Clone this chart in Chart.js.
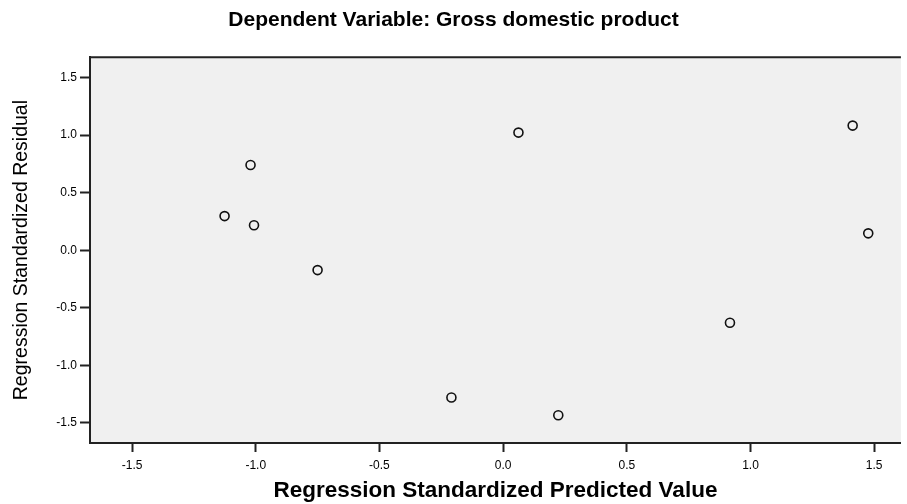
<!DOCTYPE html>
<html>
<head>
<meta charset="utf-8">
<script src="https://cdn.jsdelivr.net/npm/chart.js@4"></script>
<style>
  html, body { margin: 0; padding: 0; background: #fff; overflow: hidden; }
  canvas { display: block; }
</style>
</head>
<body>
<canvas id="resid-chart" width="907" height="504"></canvas>
<script>
// standardized predicted value vs standardized residual
const predicted = [-1.126, -1.021, -1.007, -0.750, -0.209, 0.062, 0.223, 0.917, 1.413, 1.476]
const residuals = [0.297, 0.741, 0.217, -0.172, -1.279, 1.022, -1.433, -0.630, 1.083, 0.147]
const xTickValues = [-1.5, -1.0, -0.5, 0.0, 0.5, 1.0, 1.5]
const yTickValues = [-1.5, -1.0, -0.5, 0.0, 0.5, 1.0, 1.5]

const points = predicted.map((x, i) => ({ x: x, y: residuals[i] }))
const fontFamily = '"Liberation Sans", Arial, sans-serif'
const lineColor = '#222'

// grey plot box with the top edge
const plotBox = {
    id: 'plotBox',
    beforeDraw(chart) {
        const { ctx, chartArea: a } = chart
        ctx.save()
        ctx.fillStyle = '#f0f0f0'
        ctx.fillRect(a.left, a.top, a.right - a.left, a.bottom - a.top)
        ctx.strokeStyle = lineColor
        ctx.lineWidth = 2
        ctx.beginPath()
        ctx.moveTo(a.left, a.top)
        ctx.lineTo(a.right, a.top)
        ctx.stroke()
        ctx.restore()
    }
}

const ctx = document.getElementById('resid-chart').getContext('2d')
const residChart = new Chart(ctx, {
    type: 'scatter',
    data: {
        datasets: [{
            data: points,
            pointStyle: 'circle',
            pointRadius: 4.5,
            pointHoverRadius: 4.5,
            pointBorderWidth: 1.6,
            borderColor: '#111',
            backgroundColor: 'rgba(0,0,0,0)'
        }]
    },
    options: {
        responsive: false,
        animation: false,
        layout: { padding: 0 },
        plugins: {
            legend: { display: false },
            tooltip: { enabled: false },
            title: {
                display: true,
                text: 'Dependent Variable: Gross domestic product',
                color: '#000',
                font: { family: fontFamily, size: 21, weight: 'bold' },
                padding: { top: 8, bottom: 24 }
            }
        },
        scales: {
            x: {
                type: 'linear',
                min: -1.670,
                max: 1.608,
                afterBuildTicks: scale => { scale.ticks = xTickValues.map(v => ({ value: v })) },
                afterFit: scale => {
                    scale.height = 61
                    scale.paddingLeft = 0
                    scale.paddingRight = 0
                },
                ticks: {
                    color: '#000',
                    padding: 6,
                    maxRotation: 0,
                    font: { family: fontFamily, size: 12 },
                    callback: v => v.toFixed(1)
                },
                grid: {
                    drawOnChartArea: false,
                    drawTicks: true,
                    tickLength: 9,
                    tickWidth: 2,
                    tickColor: lineColor
                },
                border: { display: true, color: lineColor, width: 2 },
                title: {
                    display: true,
                    text: 'Regression Standardized Predicted Value',
                    color: '#000',
                    font: { family: fontFamily, size: 22.5, weight: 'bold' },
                    padding: { top: 0, bottom: 0 }
                }
            },
            y: {
                type: 'linear',
                min: -1.674,
                max: 1.677,
                afterBuildTicks: scale => { scale.ticks = yTickValues.map(v => ({ value: v })) },
                afterFit: scale => { scale.width = 90 },
                ticks: {
                    color: '#000',
                    padding: 3,
                    font: { family: fontFamily, size: 12 },
                    callback: v => v.toFixed(1)
                },
                grid: {
                    drawOnChartArea: false,
                    drawTicks: true,
                    tickLength: 10,
                    tickWidth: 2,
                    tickColor: lineColor
                },
                border: { display: true, color: lineColor, width: 2 },
                title: {
                    display: true,
                    text: 'Regression Standardized Residual',
                    color: '#000',
                    font: { family: fontFamily, size: 19.5 },
                    padding: { top: 10, bottom: 0 }
                }
            }
        }
    },
    plugins: [plotBox]
})
</script>
</body>
</html>
